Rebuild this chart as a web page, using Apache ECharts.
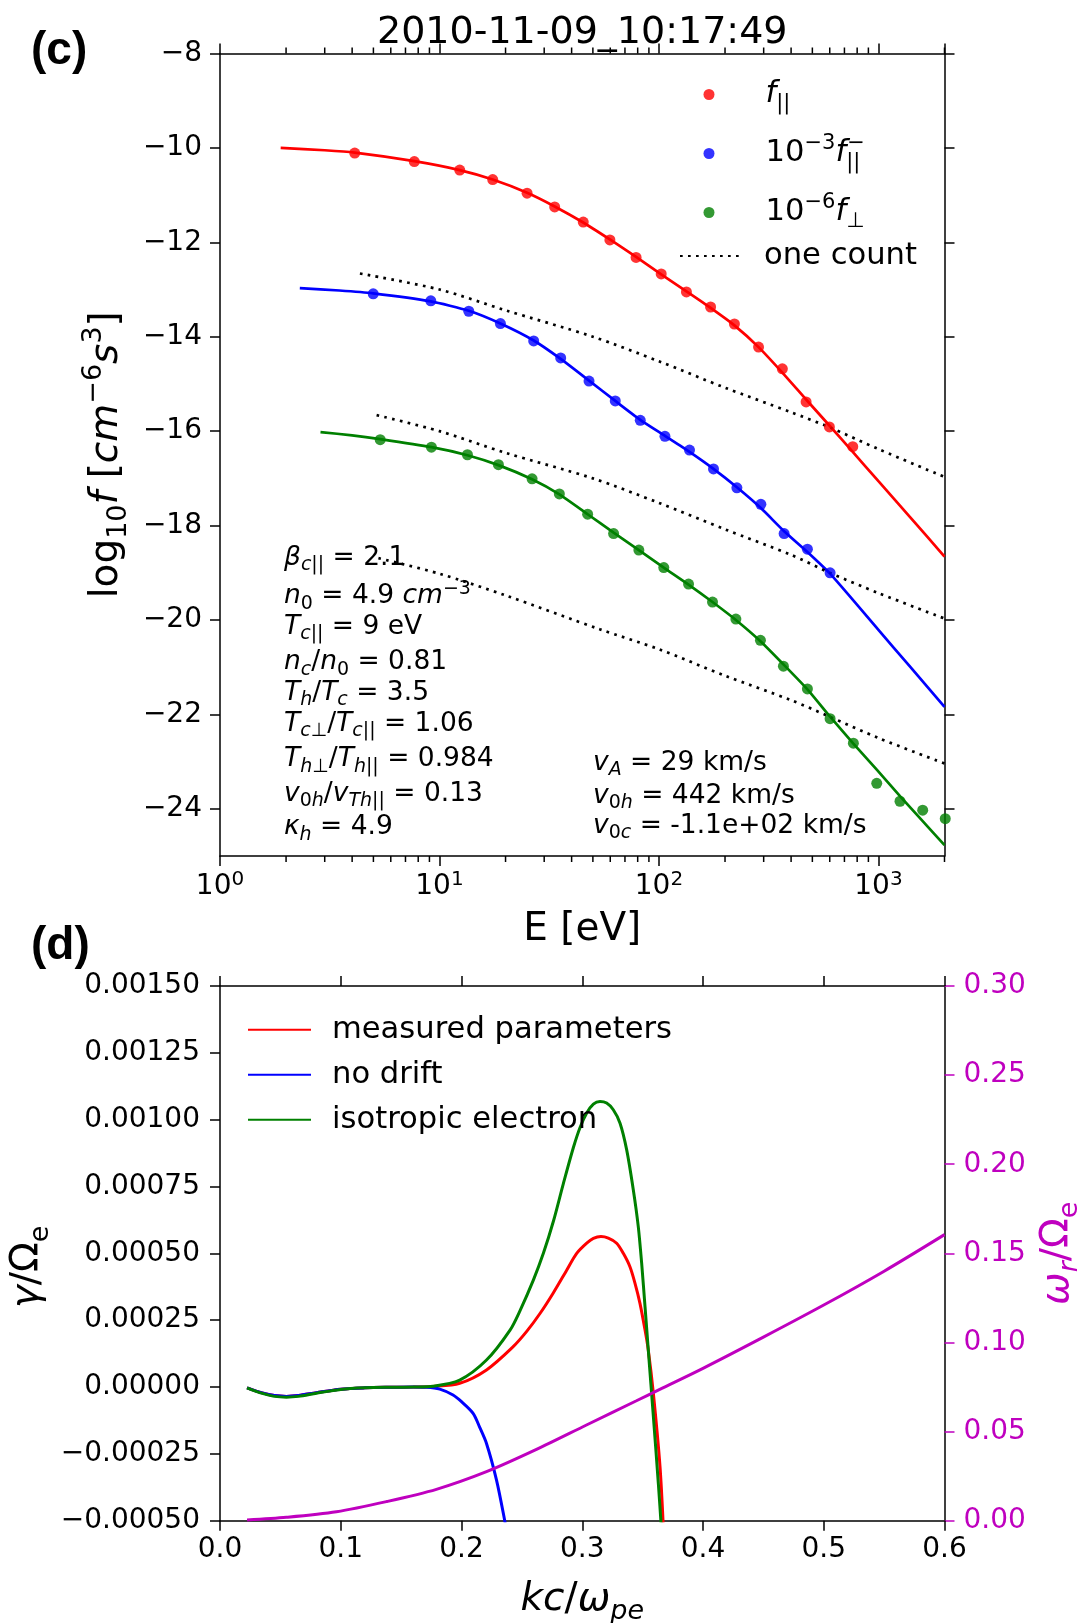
<!DOCTYPE html>
<html><head><meta charset="utf-8">
<script src="https://cdn.jsdelivr.net/npm/echarts@6/dist/echarts.min.js"></script>
<style>html,body{margin:0;padding:0;background:#fff}#chart{width:1080px;height:1623px}</style>
</head><body><div id="chart"></div>
<script>
// ================= Panel (c) data: log10 f vs E [eV] =================
const E_par   = [4.11, 7.68, 12.37, 17.48, 25.07, 33.49, 45.19, 59.77, 78.66, 102.4, 133.4, 171.9, 220.7, 284.3, 364.9, 468.2, 597.8, 763.8];
const f_par   = [-10.11, -10.29, -10.47, -10.67, -10.96, -11.25, -11.57, -11.95, -12.32, -12.67, -13.05, -13.37, -13.73, -14.22, -14.68, -15.38, -15.91, -16.33];
const E_parFit = [1.89, 3.0, 4.11, 7.68, 12.37, 17.48, 25.07, 33.49, 45.19, 59.77, 78.66, 102.4, 133.4, 171.9, 220.7, 284.3, 364.9, 468.2, 597.8, 763.8, 1000, 1400, 2000];
const f_parFit = [-10.00, -10.05, -10.10, -10.28, -10.47, -10.67, -10.95, -11.24, -11.58, -11.94, -12.31, -12.68, -13.04, -13.39, -13.76, -14.22, -14.76, -15.33, -15.88, -16.44, -17.06, -17.83, -18.66];

const E_pm    = [4.99, 9.13, 13.60, 18.95, 26.87, 35.66, 48.02, 63.24, 82.20, 106.5, 137.8, 177.2, 226.5, 291.3, 371.8, 474.7, 602.2];
const f_pm    = [-13.09, -13.24, -13.46, -13.72, -14.09, -14.45, -14.94, -15.36, -15.77, -16.11, -16.40, -16.80, -17.20, -17.55, -18.17, -18.50, -19.00];
const E_pmFit = [2.31, 3.5, 4.99, 9.13, 13.60, 18.95, 26.87, 35.66, 48.02, 63.24, 82.20, 106.5, 137.8, 177.2, 226.5, 291.3, 371.8, 474.7, 602.2, 1000, 1400, 2000];
const f_pmFit = [-12.97, -13.02, -13.08, -13.25, -13.45, -13.72, -14.08, -14.47, -14.93, -15.36, -15.76, -16.10, -16.44, -16.80, -17.19, -17.63, -18.12, -18.56, -19.02, -20.21, -21.00, -21.84];

const E_perp  = [5.37, 9.19, 13.41, 18.56, 26.42, 35.17, 47.32, 62.15, 80.99, 105.2, 136.4, 175.4, 224.1, 290.0, 369.1, 474.7, 602.2, 768.8, 982.4, 1254, 1591, 2016];
const f_perp  = [-16.18, -16.34, -16.50, -16.71, -17.01, -17.33, -17.76, -18.17, -18.52, -18.89, -19.24, -19.62, -19.98, -20.43, -20.98, -21.46, -22.09, -22.61, -23.46, -23.84, -24.03, -24.21];
const E_perpFit = [2.87, 4.0, 5.37, 9.19, 13.41, 18.56, 26.42, 35.17, 47.32, 62.15, 80.99, 105.2, 136.4, 175.4, 224.1, 290.0, 369.1, 474.7, 602.2, 768.8, 982.4, 1254, 1591, 2000];
const f_perpFit = [-16.02, -16.09, -16.17, -16.34, -16.51, -16.72, -17.02, -17.34, -17.76, -18.15, -18.52, -18.89, -19.25, -19.62, -20.00, -20.45, -20.94, -21.47, -22.05, -22.62, -23.17, -23.73, -24.26, -24.77];

// "one count" levels
const E_cnt1 = [4.34, 10, 20, 50, 100, 200, 400, 600, 1000, 2000];
const cnt1   = [-12.66, -13.00, -13.44, -14.00, -14.52, -15.08, -15.60, -15.92, -16.38, -16.97];
const E_cnt2 = [5.17, 10, 20, 50, 100, 200, 400, 600, 1000, 2000];
const cnt2   = [-15.66, -16.00, -16.46, -17.00, -17.52, -18.08, -18.62, -19.00, -19.43, -19.97];
const E_cnt3 = [5.27, 10, 20, 54, 100, 200, 400, 600, 1000, 2000];
const cnt3   = [-18.69, -19.02, -19.48, -20.20, -20.62, -21.18, -21.70, -22.05, -22.50, -23.04];

const yTicksC = [-24, -22, -20, -18, -16, -14, -12, -10, -8];
const xMinorTicksC = [2,3,4,5,6,7,8,9,20,30,40,50,60,70,80,90,200,300,400,500,600,700,800,900,2000];

// ================= Panel (d) data: growth rate & frequency vs k =================
const k_meas = [0.0224, 0.035, 0.045, 0.055, 0.065, 0.08, 0.1, 0.12, 0.14, 0.16, 0.1764, 0.1985, 0.2207, 0.2428, 0.254, 0.265, 0.276, 0.2871, 0.2954, 0.3037, 0.3092, 0.3155, 0.3216, 0.3285, 0.334, 0.3395, 0.3437, 0.3478, 0.352, 0.3547, 0.3589, 0.3644, 0.3675];
const g_meas = [-0.000003, -0.000022, -0.000032, -0.000035, -0.000032, -0.000021, -0.000008, -0.000003, -0.000001, 0, 0.000002, 0.000014, 0.000064, 0.000151, 0.000208, 0.000275, 0.000352, 0.000437, 0.0005, 0.000538, 0.000556, 0.000563, 0.000557, 0.000538, 0.0005, 0.00045, 0.000388, 0.000313, 0.000213, 0.000138, -0.000024, -0.000298, -0.00056];
const k_nod  = [0.0224, 0.035, 0.045, 0.055, 0.065, 0.08, 0.1, 0.12, 0.14, 0.16, 0.171, 0.182, 0.193, 0.2, 0.2096, 0.215, 0.2207, 0.229, 0.2358, 0.2385];
const g_nod  = [-0.000003, -0.000022, -0.000032, -0.000035, -0.000032, -0.000021, -0.000008, -0.000003, -0.000001, 0, -0.000001, -0.000008, -0.00003, -0.000055, -0.0000985, -0.00015, -0.000211, -0.000348, -0.0005, -0.00057];
const k_iso  = [0.0224, 0.035, 0.045, 0.055, 0.065, 0.08, 0.1, 0.12, 0.14, 0.16, 0.1764, 0.1985, 0.2207, 0.2402, 0.2484, 0.2595, 0.2678, 0.2761, 0.2843, 0.2926, 0.2981, 0.3037, 0.3092, 0.3147, 0.3202, 0.3257, 0.3313, 0.3368, 0.3423, 0.3464, 0.3492, 0.352, 0.3547, 0.3589, 0.363, 0.366];
const g_iso  = [-0.000003, -0.000024, -0.000035, -0.000038, -0.000035, -0.000023, -0.000009, -0.000003, -0.000001, 0, 0.000003, 0.000026, 0.000101, 0.000213, 0.000285, 0.0004, 0.0005, 0.00062, 0.00076, 0.000895, 0.00097, 0.001025, 0.001058, 0.001068, 0.001062, 0.001037, 0.000987, 0.000887, 0.000737, 0.0006, 0.000463, 0.0003, 0.000138, -0.000111, -0.00036, -0.00056];
const k_wr   = [0.0224, 0.055, 0.0964, 0.1378, 0.1792, 0.2207, 0.2621, 0.3035, 0.3449, 0.3642, 0.4, 0.45, 0.5, 0.55, 0.6];
const wr     = [0.0004, 0.0019, 0.0050, 0.0107, 0.0176, 0.0275, 0.0400, 0.0537, 0.0673, 0.0737, 0.0855, 0.1030, 0.1210, 0.1400, 0.1605];

// ================= styling helpers =================
const FF = 'DejaVu Sans';
const RED = '#ff0000', BLUE = '#0000ff', GREEN = '#008000', MAG = '#bf00bf', BLK = '#000000';
const zip = (a, b) => a.map((v, i) => [v, b[i]]);
function mk(size, extra) { return Object.assign({fontFamily: FF, fontSize: size}, extra || {}); }
function mathRich(size, L, col) {
  const s = Math.round(size * 0.7);
  const c = {color: col || BLK, fill: col || BLK};
  return {
    n:  mk(size, Object.assign({lineHeight: L}, c)),
    i:  mk(size, Object.assign({lineHeight: L, fontStyle: 'italic'}, c)),
    s:  mk(s, Object.assign({lineHeight: s, verticalAlign: 'bottom'}, c)),
    si: mk(s, Object.assign({lineHeight: s, verticalAlign: 'bottom', fontStyle: 'italic'}, c)),
    sz: mk(s, Object.assign({lineHeight: s, verticalAlign: 'bottom', width: 1}, c)),
    p:  mk(s, Object.assign({lineHeight: s, verticalAlign: 'top'}, c)),
    pi: mk(s, Object.assign({lineHeight: s, verticalAlign: 'top', fontStyle: 'italic'}, c))
  };
}
const minusFmt = v => (v < 0 ? '\u2212' : '') + Math.abs(v);
const axLine = {show: true, onZero: false, lineStyle: {color: BLK, width: 1.5}};
const axTick = {show: true, inside: false, length: 10, lineStyle: {color: BLK, width: 1.5}};
const noSplit = {show: false};
const AX_FS = 39, AX_LH = 52;

const legendLabels = {
  f_par:  '{i|f}{s|||}',
  f_parm: '{n|10}{p|\u22123}{i|f}{sz|||}{p|\u2212}',
  f_perp: '{n|10}{p|\u22126}{i|f}{s|\u22A5}'
};

const annLeft = [
  '{i|\u03B2}{si|c}{s|||}{n| = 2.1}',
  '{i|n}{s|0}{n| = 4.9 }{i|cm}{p|\u22123}',
  '{i|T}{si|c}{s|||}{n| = 9 eV}',
  '{i|n}{si|c}{n|/}{i|n}{s|0}{n| = 0.81}',
  '{i|T}{si|h}{n|/}{i|T}{si|c}{n| = 3.5}',
  '{i|T}{si|c}{s|\u22A5}{n|/}{i|T}{si|c}{s|||}{n| = 1.06}',
  '{i|T}{si|h}{s|\u22A5}{n|/}{i|T}{si|h}{s|||}{n| = 0.984}',
  '{i|v}{s|0}{si|h}{n|/}{i|v}{si|Th}{s|||}{n| = 0.13}',
  '{i|\u03BA}{si|h}{n| = 4.9}'
];
const annRight = [
  '{i|v}{si|A}{n| = 29 km/s}',
  '{i|v}{s|0}{si|h}{n| = 442 km/s}',
  '{i|v}{s|0}{si|c}{n| = -1.1e+02 km/s}'
];
const annLeftY = [558, 596.5, 626.7, 662.5, 692.8, 723.8, 759.2, 793.7, 827.5];
const annRightY = [762.8, 795.8, 825.8];
const annRich = mathRich(26.5, 34);

const graphics = [];
annLeft.forEach((t, i) => graphics.push({type: 'text', x: 284, y: annLeftY[i], silent: true,
  style: {text: t, rich: annRich, fontFamily: FF, fontSize: 26.5, fill: BLK, align: 'left', verticalAlign: 'middle'}}));
annRight.forEach((t, i) => graphics.push({type: 'text', x: 593, y: annRightY[i], silent: true,
  style: {text: t, rich: annRich, fontFamily: FF, fontSize: 26.5, fill: BLK, align: 'left', verticalAlign: 'middle'}}));
graphics.push({type: 'text', x: 31, y: 51, silent: true,
  style: {text: '(c)', fontFamily: 'Liberation Sans', fontWeight: 'bold', fontSize: 46, fill: BLK, align: 'left', verticalAlign: 'middle'}});
graphics.push({type: 'text', x: 31, y: 946.5, silent: true,
  style: {text: '(d)', fontFamily: 'Liberation Sans', fontWeight: 'bold', fontSize: 46, fill: BLK, align: 'left', verticalAlign: 'middle'}});

const GRID_L = 220, GRID_W = 724.5;

const option = {
  animation: false,
  backgroundColor: '#ffffff',
  textStyle: {fontFamily: FF, color: BLK},
  title: {text: '2010-11-09_10:17:49', left: GRID_L + GRID_W / 2, top: 9, textAlign: 'center', padding: 0,
    textStyle: {fontFamily: FF, fontSize: 38, fontWeight: 'normal', color: BLK, lineHeight: 48}},
  grid: [
    {left: GRID_L, top: 53.5, width: GRID_W, height: 802.5, containLabel: false, outerBoundsMode: 'none'},
    {left: GRID_L, top: 986, width: GRID_W, height: 534.7, containLabel: false, outerBoundsMode: 'none'}
  ],
  legend: [
    {data: ['f_par', 'f_parm', 'f_perp'], orient: 'vertical', left: 703.5, top: 79, padding: 0,
     itemWidth: 103, itemHeight: 11, itemGap: 19, icon: 'circle', selectedMode: false,
     formatter: name => legendLabels[name],
     textStyle: {fontFamily: FF, fontSize: 30.6, color: BLK, rich: mathRich(30.6, 40)}},
    {data: ['one count'], orient: 'vertical', left: 679, top: 236, padding: 0,
     itemWidth: 61, itemHeight: 12, itemGap: 0, selectedMode: false, itemStyle: {opacity: 0},
     textStyle: {fontFamily: FF, fontSize: 30.6, lineHeight: 40, color: BLK, padding: [0, 0, 0, 18]}},
    {data: ['measured parameters', 'no drift', 'isotropic electron'], orient: 'vertical', left: 247, top: 1011.7, padding: 0,
     itemWidth: 63, itemHeight: 14, itemGap: 9, selectedMode: false, itemStyle: {opacity: 0},
     textStyle: {fontFamily: FF, fontSize: 30.6, lineHeight: 36, color: BLK, padding: [0, 0, 0, 16]}}
  ],
  xAxis: [
    {gridIndex: 0, type: 'log', logBase: 10, min: 1, max: 2000, position: 'bottom',
     axisLine: axLine, axisTick: axTick, splitLine: noSplit,
     axisLabel: {show: true, margin: 14, color: BLK, fontFamily: FF, fontSize: 28, lineHeight: 34, showMaxLabel: false,
       formatter: v => '{b|10}{e|' + Math.round(Math.log10(v)) + '}',
       rich: {b: mk(28, {lineHeight: 34, color: BLK}), e: mk(20, {lineHeight: 20, verticalAlign: 'top', color: BLK})}},
     name: 'E [eV]', nameLocation: 'middle', nameGap: 47.5, nameMoveOverlap: false,
     nameTextStyle: {fontFamily: FF, fontSize: AX_FS, lineHeight: AX_LH, color: BLK}},
    {gridIndex: 0, type: 'log', logBase: 10, min: 1, max: 2000, position: 'top',
     axisLine: axLine, axisTick: axTick, splitLine: noSplit, axisLabel: {show: false}},
    {gridIndex: 1, type: 'value', min: 0, max: 0.6, interval: 0.1, position: 'bottom',
     axisLine: axLine, axisTick: axTick, splitLine: noSplit,
     axisLabel: {margin: 12, color: BLK, fontFamily: FF, fontSize: 28, lineHeight: 34, formatter: v => v.toFixed(1)},
     name: '{i|kc}{n|/}{i|\u03C9}{si|pe}', nameLocation: 'middle', nameGap: 53, nameMoveOverlap: false,
     nameTextStyle: {fontFamily: FF, fontSize: AX_FS, lineHeight: AX_LH, color: BLK, rich: mathRich(AX_FS, AX_LH)}},
    {gridIndex: 1, type: 'value', min: 0, max: 0.6, interval: 0.1, position: 'top',
     axisLine: axLine, axisTick: axTick, splitLine: noSplit, axisLabel: {show: false}}
  ],
  yAxis: [
    {gridIndex: 0, type: 'value', min: -25, max: -8, position: 'left',
     axisLine: axLine, axisTick: Object.assign({customValues: yTicksC}, axTick), splitLine: noSplit,
     axisLabel: {customValues: yTicksC, margin: 18, color: BLK, fontFamily: FF, fontSize: 28, lineHeight: 34, formatter: minusFmt},
     name: '{n|log}{s|10}{i|f}{n| [}{i|cm}{p|\u22126}{i|s}{p|3}{n|]}', nameLocation: 'middle', nameGap: 87.5, nameMoveOverlap: false,
     nameTextStyle: {fontFamily: FF, fontSize: AX_FS, lineHeight: AX_LH, color: BLK, rich: mathRich(AX_FS, AX_LH)}},
    {gridIndex: 0, type: 'value', min: -25, max: -8, position: 'right',
     axisLine: axLine, axisTick: Object.assign({customValues: yTicksC}, axTick), splitLine: noSplit, axisLabel: {show: false}},
    {gridIndex: 1, type: 'value', min: -0.0005, max: 0.0015, interval: 0.00025, position: 'left',
     axisLine: axLine, axisTick: axTick, splitLine: noSplit,
     axisLabel: {margin: 20, color: BLK, fontFamily: FF, fontSize: 28, lineHeight: 34,
       formatter: v => { const t = Math.abs(v).toFixed(5); return (v < 0 && t !== '0.00000' ? '\u2212' : '') + t; }},
     name: '{i|\u03B3}{n|/\u03A9}{s|e}{n|\u2002\u2009}', nameLocation: 'middle', nameGap: 166, nameMoveOverlap: false,
     nameTextStyle: {fontFamily: FF, fontSize: AX_FS, lineHeight: AX_LH, color: BLK, rich: mathRich(AX_FS, AX_LH)}},
    {gridIndex: 1, type: 'value', min: 0, max: 0.3, interval: 0.05, position: 'right',
     axisLine: axLine, axisTick: {show: true, inside: false, length: 10, lineStyle: {color: MAG, width: 1.5}}, splitLine: noSplit,
     axisLabel: {margin: 19, color: MAG, fontFamily: FF, fontSize: 28, lineHeight: 34, formatter: v => v.toFixed(2)},
     name: '{i|\u03C9}{si|r}{n|/\u03A9}{s|e}', nameLocation: 'middle', nameGap: 87, nameMoveOverlap: false,
     nameTextStyle: {fontFamily: FF, fontSize: AX_FS, lineHeight: AX_LH, color: MAG, rich: mathRich(AX_FS, AX_LH, MAG)}}
  ],
  series: [
    {type: 'line', name: 'fit_par', xAxisIndex: 0, yAxisIndex: 0, data: zip(E_parFit, f_parFit), symbol: 'none', showSymbol: false, smooth: 0.2,
     lineStyle: {color: RED, width: 2.7}, itemStyle: {color: RED}, z: 2, silent: true},
    {type: 'line', name: 'fit_parm', xAxisIndex: 0, yAxisIndex: 0, data: zip(E_pmFit, f_pmFit), symbol: 'none', showSymbol: false, smooth: 0.2,
     lineStyle: {color: BLUE, width: 2.7}, itemStyle: {color: BLUE}, z: 2, silent: true},
    {type: 'line', name: 'fit_perp', xAxisIndex: 0, yAxisIndex: 0, data: zip(E_perpFit, f_perpFit), symbol: 'none', showSymbol: false, smooth: 0.2,
     lineStyle: {color: GREEN, width: 2.7}, itemStyle: {color: GREEN}, z: 2, silent: true},
    {type: 'line', name: 'one count', xAxisIndex: 0, yAxisIndex: 0, data: zip(E_cnt1, cnt1), symbol: 'none', showSymbol: false, smooth: 0.3,
     lineStyle: {color: BLK, width: 2.7, type: [2.7, 5.3], cap: 'butt'}, itemStyle: {color: BLK}, z: 3, silent: true},
    {type: 'line', name: 'one count', xAxisIndex: 0, yAxisIndex: 0, data: zip(E_cnt2, cnt2), symbol: 'none', showSymbol: false, smooth: 0.3,
     lineStyle: {color: BLK, width: 2.7, type: [2.7, 5.3], cap: 'butt'}, itemStyle: {color: BLK}, z: 3, silent: true},
    {type: 'line', name: 'one count', xAxisIndex: 0, yAxisIndex: 0, data: zip(E_cnt3, cnt3), symbol: 'none', showSymbol: false, smooth: 0.3,
     lineStyle: {color: BLK, width: 2.7, type: [2.7, 5.3], cap: 'butt'}, itemStyle: {color: BLK}, z: 3, silent: true},
    {type: 'scatter', name: 'f_par', xAxisIndex: 0, yAxisIndex: 0, data: zip(E_par, f_par), symbol: 'circle', symbolSize: 11,
     itemStyle: {color: RED}, z: 4, clip: false, silent: true},
    {type: 'scatter', name: 'f_parm', xAxisIndex: 0, yAxisIndex: 0, data: zip(E_pm, f_pm), symbol: 'circle', symbolSize: 11,
     itemStyle: {color: BLUE}, z: 4, clip: false, silent: true},
    {type: 'scatter', name: 'f_perp', xAxisIndex: 0, yAxisIndex: 0, data: zip(E_perp, f_perp), symbol: 'circle', symbolSize: 11,
     itemStyle: {color: GREEN}, z: 4, clip: false, silent: true},
    {type: 'custom', name: 'minor ticks', xAxisIndex: 0, yAxisIndex: 0, silent: true, clip: false,
     data: xMinorTicksC.map(e => [e, -25]),
     renderItem: (params, api) => {
       const e = api.value(0);
       const b = api.coord([e, -25]), t = api.coord([e, -8]);
       const st = {stroke: BLK, lineWidth: 1.5};
       return {type: 'group', children: [
         {type: 'line', shape: {x1: b[0], y1: b[1], x2: b[0], y2: b[1] + 6}, style: st},
         {type: 'line', shape: {x1: t[0], y1: t[1], x2: t[0], y2: t[1] - 6}, style: st}
       ]};
     }},
    {type: 'line', name: 'measured parameters', xAxisIndex: 2, yAxisIndex: 2, data: zip(k_meas, g_meas), symbol: 'none', showSymbol: false, smooth: 0.3,
     lineStyle: {color: RED, width: 3}, itemStyle: {color: RED}, z: 2, silent: true},
    {type: 'line', name: 'no drift', xAxisIndex: 2, yAxisIndex: 2, data: zip(k_nod, g_nod), symbol: 'none', showSymbol: false, smooth: 0.3,
     lineStyle: {color: BLUE, width: 3}, itemStyle: {color: BLUE}, z: 2, silent: true},
    {type: 'line', name: 'isotropic electron', xAxisIndex: 2, yAxisIndex: 2, data: zip(k_iso, g_iso), symbol: 'none', showSymbol: false, smooth: 0.3,
     lineStyle: {color: GREEN, width: 3}, itemStyle: {color: GREEN}, z: 2, silent: true},
    {type: 'line', name: 'omega_r', xAxisIndex: 2, yAxisIndex: 3, data: zip(k_wr, wr), symbol: 'none', showSymbol: false, smooth: 0.3,
     lineStyle: {color: MAG, width: 3}, itemStyle: {color: MAG}, z: 3, silent: true}
  ],
  graphic: graphics
};

const chart = echarts.init(document.getElementById('chart'), null, {renderer: 'canvas'});
chart.setOption(option);
</script>
</body></html>
